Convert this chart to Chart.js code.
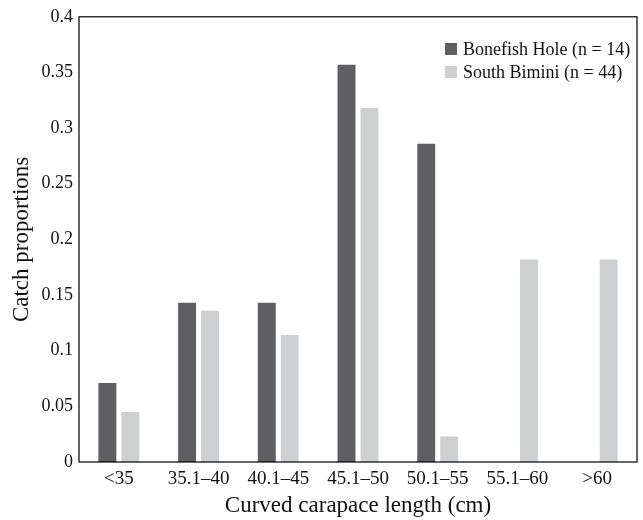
<!DOCTYPE html>
<html>
<head>
<meta charset="utf-8">
<script src="https://cdn.jsdelivr.net/npm/chart.js@4/dist/chart.umd.min.js"></script>
<style>
  html, body { margin: 0; padding: 0; background: #fff; }
  #wrap { width: 643px; height: 520px; }
</style>
</head>
<body>
<div id="wrap"><canvas id="catchChart" width="643" height="520"></canvas></div>
<script>
// Catch proportions by curved carapace length

const categories = ["<35", "35.1\u201340", "40.1\u201345", "45.1\u201350", "50.1\u201355", "55.1\u201360", ">60"]
const bonefishHole = [0.071, 0.143, 0.143, 0.357, 0.286, 0, 0]
const southBimini = [0.045, 0.136, 0.114, 0.318, 0.023, 0.182, 0.182]
const seriesNames = ["Bonefish Hole (n = 14)", "South Bimini (n = 44)"]
const yTicks = [0, 0.05, 0.1, 0.15, 0.2, 0.25, 0.3, 0.35, 0.4]

const FONT = "'Liberation Serif', 'Times New Roman', serif"
const DARK = "#5f5e63"
const LIGHT = "#cecfd1"

// box around the plot area
const frame = {
  id: "frame",
  afterDraw(chart) {
    const { ctx, chartArea: a } = chart
    ctx.save()
    ctx.strokeStyle = "#000"
    ctx.lineWidth = 1.2
    ctx.strokeRect(a.left, a.top, a.right - a.left, a.bottom - a.top)
    ctx.restore()
  },
}

// legend drawn inside the plot, top right
const innerLegend = {
  id: "innerLegend",
  afterDraw(chart) {
    const { ctx } = chart
    ctx.save()
    ctx.font = "18px " + FONT
    ctx.textBaseline = "middle"
    ctx.textAlign = "left"
    chart.data.datasets.forEach((ds, i) => {
      const y = 49 + i * 23
      ctx.fillStyle = ds.backgroundColor
      ctx.fillRect(445, y - 6, 12, 12)
      ctx.fillStyle = "#111"
      ctx.fillText(ds.label, 463, y + 1)
    })
    ctx.restore()
  },
}

new Chart(document.getElementById("catchChart"), {
  type: "bar",
  data: {
    labels: categories,
    datasets: [
      { label: seriesNames[0], data: bonefishHole, backgroundColor: DARK },
      { label: seriesNames[1], data: southBimini, backgroundColor: LIGHT },
    ],
  },
  options: {
    responsive: false,
    animation: false,
    categoryPercentage: 0.577,
    barPercentage: 0.78,
    layout: { padding: { top: 16, right: 6, left: 0, bottom: 0 } },
    plugins: {
      legend: { display: false },
      tooltip: { enabled: false },
    },
    scales: {
      x: {
        grid: { display: false, drawTicks: false },
        border: { display: false },
        ticks: { color: "#111", font: { family: FONT, size: 19 }, padding: 6, maxRotation: 0 },
        title: {
          display: true,
          text: "Curved carapace length (cm)",
          color: "#111",
          font: { family: FONT, size: 23 },
          padding: { top: 1, bottom: 0 },
        },
        afterFit: (scale) => { scale.height = 58 },
      },
      y: {
        min: 0,
        max: 0.4,
        grid: { display: false, drawTicks: false },
        border: { display: false },
        afterBuildTicks: (scale) => { scale.ticks = yTicks.map((v) => ({ value: v })) },
        ticks: {
          color: "#111",
          font: { family: FONT, size: 18 },
          padding: 6,
          callback: (v) => String(Number(v.toFixed(2))),
        },
        title: {
          display: true,
          text: "Catch proportions",
          color: "#111",
          font: { family: FONT, size: 23 },
          padding: { top: 8, bottom: 0 },
        },
        afterFit: (scale) => { scale.width = 79 },
      },
    },
  },
  plugins: [frame, innerLegend],
})
</script>
</body>
</html>
